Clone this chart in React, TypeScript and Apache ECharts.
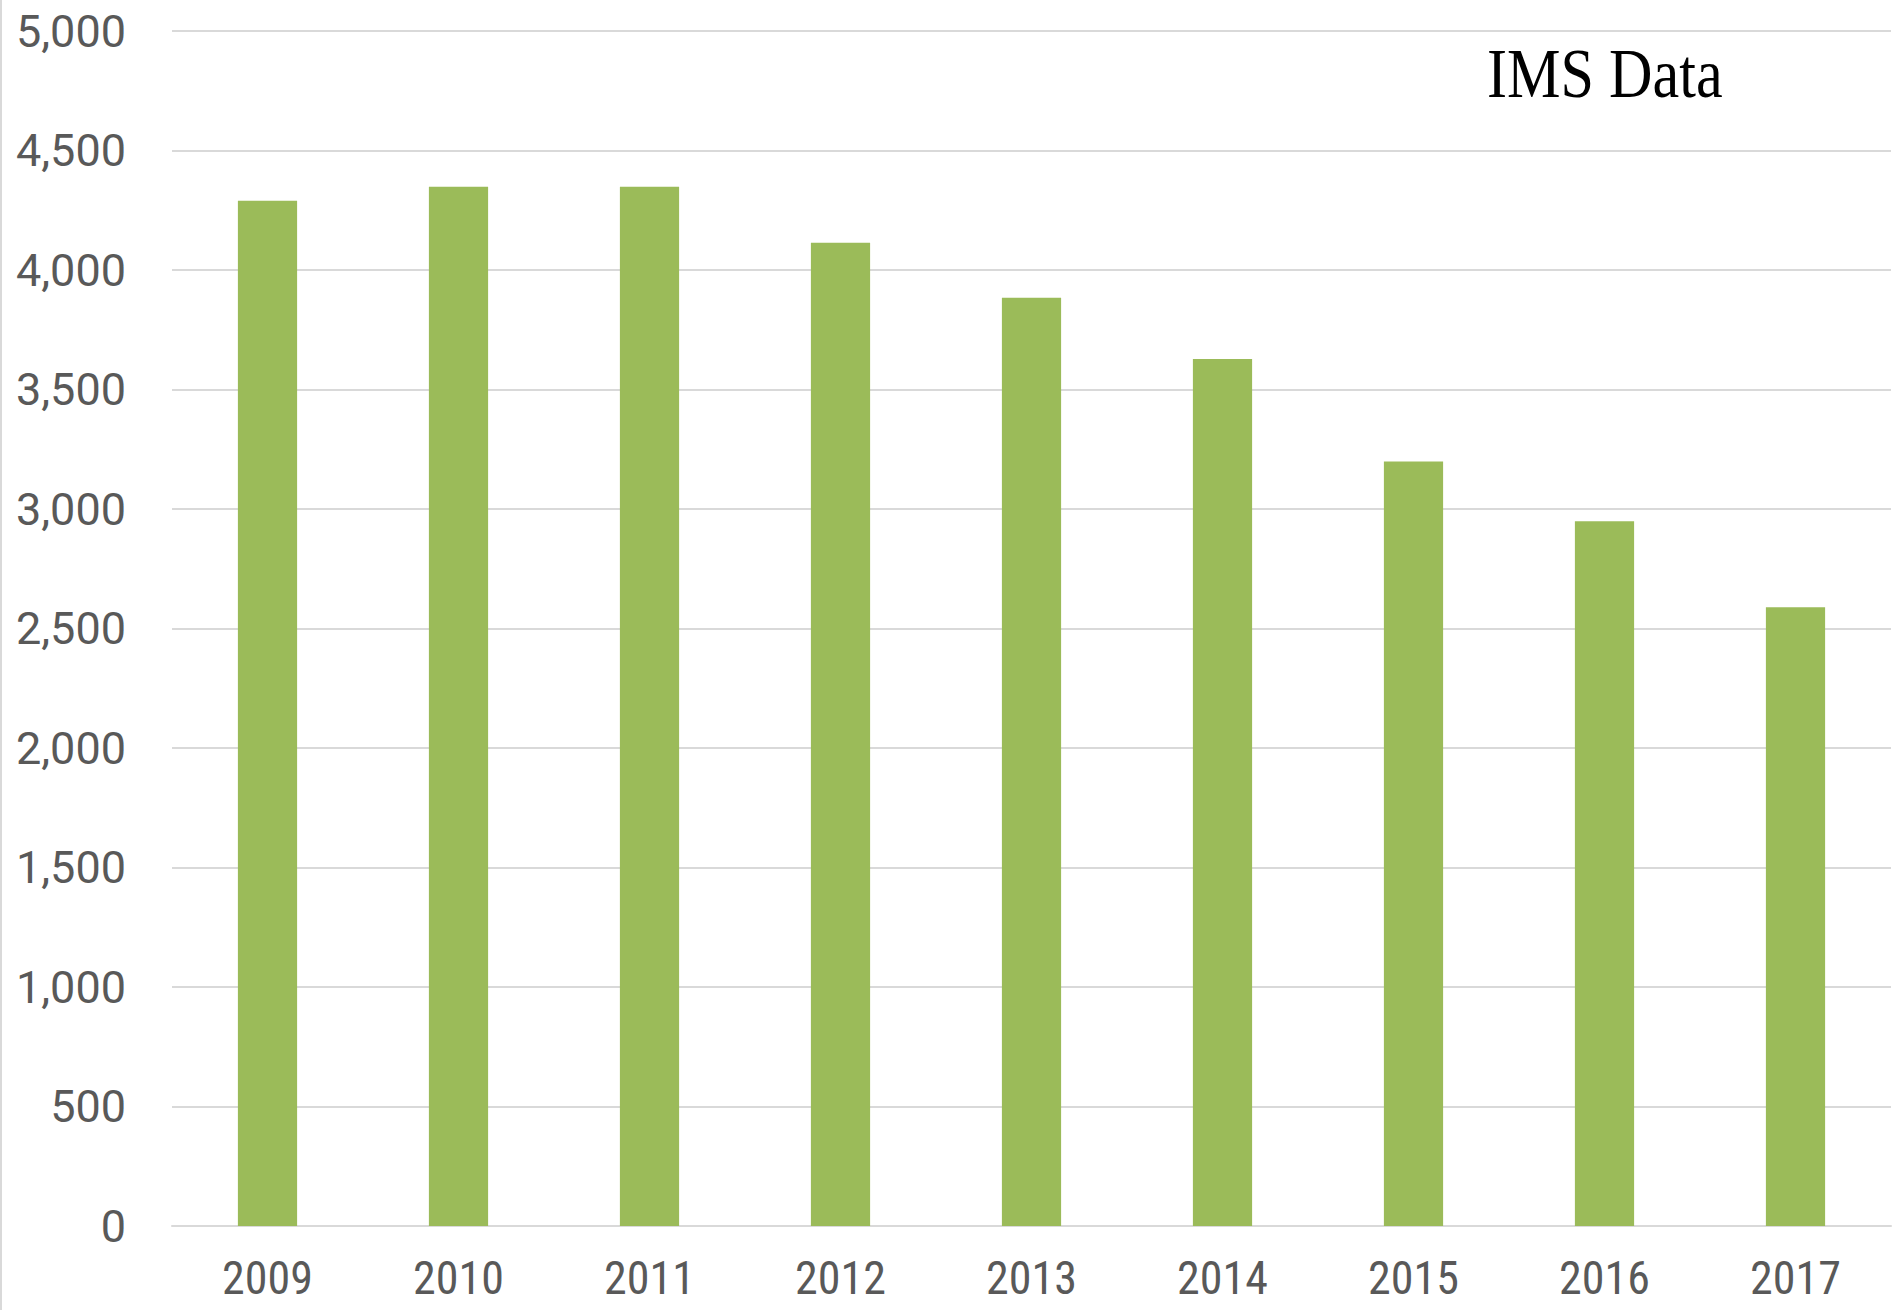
import React, { useEffect, useRef } from "react";
import * as echarts from "echarts";

const categories = ["2009", "2010", "2011", "2012", "2013", "2014", "2015", "2016", "2017"];
const values = [4290, 4348, 4348, 4114, 3884, 3628, 3199, 2949, 2589];
const titleText = "IMS Data";

export default function App() {
  const ref = useRef<HTMLDivElement>(null);
  useEffect(() => {
    if (!ref.current) return;
    const chart = echarts.init(ref.current, null, { renderer: "svg" });
    chart.setOption({
      animation: false,
      backgroundColor: "#ffffff",
      grid: { left: 172, right: 4, top: 31, bottom: 84, containLabel: false },
      xAxis: {
        type: "category",
        data: categories,
        axisLine: { show: true, lineStyle: { color: "#d9d9d9", width: 2 } },
        axisTick: { show: false },
        axisLabel: {
          color: "#595959",
          fontSize: 46,
          lineHeight: 44,
          fontFamily: "'Liberation Sans Narrow', 'Roboto Condensed', 'DejaVu Sans Condensed', sans-serif",
          margin: 30,
        },
      },
      yAxis: {
        type: "value",
        min: 0,
        max: 5000,
        interval: 500,
        axisLine: { show: false },
        axisTick: { show: false },
        splitLine: { lineStyle: { color: "#d9d9d9", width: 2 } },
        axisLabel: {
          color: "#595959",
          fontSize: 45,
          fontFamily: "Roboto, sans-serif",
          margin: 46,
          formatter: (v: number) => v.toLocaleString("en-US"),
        },
      },
      series: [
        {
          type: "bar",
          data: values,
          barWidth: "31%",
          itemStyle: { color: "#9bbb59" },
        },
      ],
      graphic: [
        {
          type: "line",
          shape: { x1: 1, y1: 0, x2: 1, y2: 1310 },
          style: { stroke: "#d9d9d9", lineWidth: 2 },
        },
        {
          type: "text",
          left: 1487,
          top: 38,
          scaleX: 0.86,
          style: {
            text: titleText,
            fill: "#000000",
            fontSize: 70,
            fontFamily: "'Liberation Serif', 'Times New Roman', serif",
          },
        },
      ],
    });
    return () => chart.dispose();
  }, []);
  return (
    <div
      ref={ref}
      style={{ position: "fixed", left: 0, top: 0, width: 1895, height: 1310 }}
    />
  );
}
